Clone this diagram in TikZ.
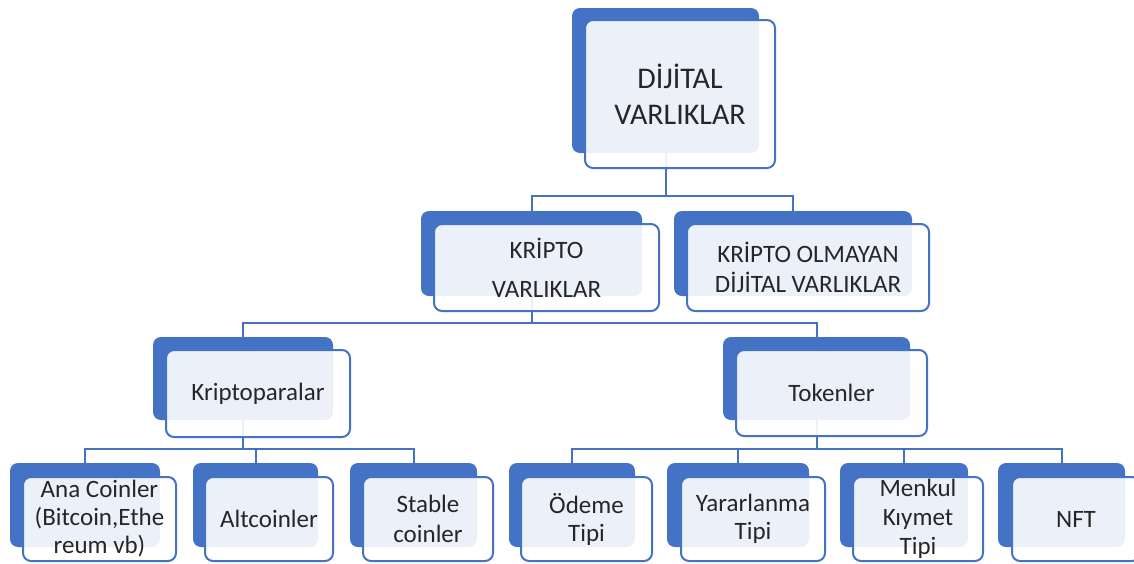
\documentclass[tikz,border=0pt]{standalone}
\usepackage{fontspec}
\setmainfont{Carlito}
\usetikzlibrary{fit,backgrounds}
\definecolor{accent}{HTML}{4472C4}
\tikzset{
  backbox/.style={fill=accent, draw=none, rounded corners=8pt, inner sep=0pt, outer sep=0pt},
  frontbox/.style={fill=white, fill opacity=0.9, draw=accent, line width=2pt,
    rounded corners=8pt, inner sep=0pt, outer sep=0pt},
  txt/.style={align=center, text=black!85, inner sep=0pt, fill opacity=1, text opacity=1,
    font=\fontsize{25}{29}\selectfont},
  conn/.style={draw=accent, line width=2pt},
}
\begin{document}
\begin{tikzpicture}[x=1pt,y=-1pt]
\useasboundingbox (0,0) rectangle (1134,563);
% level 0
\node[backbox, fit={(572,8) (759,153)}] (b0) {};
\node[frontbox, fit={(585,20) (775,168)}, label={[txt, font=\fontsize{30}{36}\selectfont]center:DİJİTAL\\VARLIKLAR}] (f0) {};
% level 1
\node[backbox, fit={(421,211) (642,296)}] (b1) {};
\node[frontbox, fit={(434,224) (659,311)}, label={[txt]center:KRİPTO\\[10pt]VARLIKLAR}] (f1) {};
\node[backbox, fit={(674,211) (912,296)}] (b2) {};
\node[frontbox, fit={(687,224) (929,311)}, label={[txt, font=\fontsize{25}{30}\selectfont]center:KRİPTO OLMAYAN\\DİJİTAL VARLIKLAR}] (f2) {};
% level 2
\node[backbox, fit={(153,337) (333,420)}] (b3) {};
\node[frontbox, fit={(166,350) (350,437)}, label={[txt]center:Kriptoparalar}] (f3) {};
\node[backbox, fit={(723,337) (910,420)}] (b4) {};
\node[frontbox, fit={(736,350) (927,436)}, label={[txt]center:Tokenler}] (f4) {};
% level 3
\node[backbox, fit={(10,463) (160,547)}] (b5) {};
\node[frontbox, fit={(23,477) (176,561)}, label={[txt, font=\fontsize{25}{28}\selectfont]center:Ana Coinler\\(Bitcoin,Ethe\\reum vb)}] (f5) {};
\node[backbox, fit={(193,463) (318,547)}] (b6) {};
\node[frontbox, fit={(205,477) (333,561)}, label={[txt]center:Altcoinler}] (f6) {};
\node[backbox, fit={(350,463) (477,547)}] (b7) {};
\node[frontbox, fit={(363,477) (493,561)}, label={[txt, font=\fontsize{25}{30}\selectfont]center:Stable\\coinler}] (f7) {};
\node[backbox, fit={(509,463) (635,547)}] (b8) {};
\node[frontbox, fit={(521,477) (652,561)}, label={[txt, font=\fontsize{25}{28}\selectfont]center:Ödeme\\Tipi}] (f8) {};
\node[backbox, fit={(667,463) (809,547)}] (b9) {};
\node[frontbox, fit={(681,477) (825,561)}, label={[txt, font=\fontsize{25}{28}\selectfont]center:Yararlanma\\Tipi}] (f9) {};
\node[backbox, fit={(840,463) (968,547)}] (b10) {};
\node[frontbox, fit={(853,477) (983,561)}, label={[txt, font=\fontsize{25}{29}\selectfont]center:Menkul\\Kıymet\\Tipi}] (f10) {};
\node[backbox, fit={(998,463) (1125,547)}] (b11) {};
\node[frontbox, fit={(1012,477) (1140,561)}, label={[txt]center:NFT}] (f11) {};
% connectors
\begin{scope}[on background layer]
\coordinate (j0) at (b0.center |- 0,196);
\coordinate (j1) at (b1.center |- 0,323);
\coordinate (j2) at (b3.center |- 0,449);
\coordinate (j3) at (b4.center |- 0,449);
\draw[conn] (b0.center) -- (j0) -| (b1.north);
\draw[conn] (j0) -| (b2.north);
\draw[conn] (b1.center) -- (j1) -| (b3.north);
\draw[conn] (j1) -| (b4.north);
\draw[conn] (b3.center) -- (j2) -| (b5.north);
\draw[conn] (j2) -| (b6.north);
\draw[conn] (j2) -| (b7.north);
\draw[conn] (b4.center) -- (j3) -| (b8.north);
\draw[conn] (j3) -| (b9.north);
\draw[conn] (j3) -| (b10.north);
\draw[conn] (j3) -| (b11.north);
\end{scope}
\end{tikzpicture}
\end{document}
